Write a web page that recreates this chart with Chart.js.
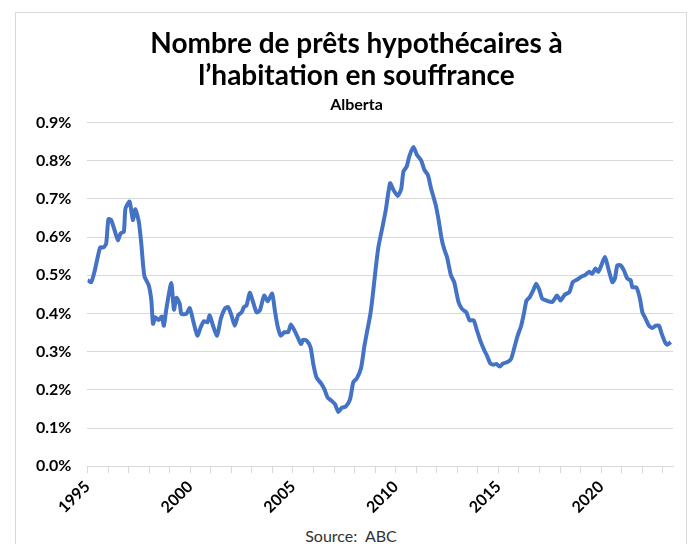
<!DOCTYPE html>
<html>
<head>
<meta charset="utf-8">
<script src="https://cdn.jsdelivr.net/npm/chart.js@4/dist/chart.umd.min.js"></script>
<style>
  body { margin: 0; background: #fff; font-family: Lato, sans-serif; }
  #frame { position: absolute; left: 15px; top: 12px; width: 670px; height: 560px; border: 1px solid #d9d9d9; }
  #wrap { position: absolute; left: 0; top: 0; width: 669px; height: 508px; }
  #source { position: absolute; left: 0; width: 670px; top: 513px; text-align: center; font-size: 16px; color: #333; }
</style>
</head>
<body>
<div id="frame">
  <div id="wrap"><canvas id="chart"></canvas></div>
  <div id="source">Source:&nbsp; ABC</div>
</div>
<script>
// decimal years and delinquency rate in %
const periods = [
  1995.00, 1995.18, 1995.34, 1995.50, 1995.62, 1995.78, 1995.91, 1996.02, 1996.15, 1996.32,
  1996.48, 1996.61, 1996.77, 1996.85, 1997.05, 1997.21, 1997.33, 1997.50, 1997.62, 1997.70,
  1997.78, 1997.98, 1998.11, 1998.19, 1998.30, 1998.46, 1998.62, 1998.72, 1998.84, 1999.08,
  1999.21, 1999.33, 1999.49, 1999.57, 1999.81, 1999.98, 2000.14, 2000.35, 2000.51, 2000.67,
  2000.84, 2000.95, 2001.11, 2001.31, 2001.49, 2001.68, 2001.84, 2002.01, 2002.17, 2002.33,
  2002.50, 2002.62, 2002.74, 2002.90, 2003.06, 2003.23, 2003.39, 2003.60, 2003.77, 2003.99,
  2004.12, 2004.25, 2004.41, 2004.58, 2004.77, 2004.90, 2005.06, 2005.23, 2005.39, 2005.50,
  2005.67, 2005.86, 2005.99, 2006.15, 2006.37, 2006.53, 2006.69, 2006.89, 2007.05, 2007.21,
  2007.37, 2007.57, 2007.78, 2007.94, 2008.11, 2008.32, 2008.48, 2008.60, 2008.76, 2008.87,
  2009.00, 2009.16, 2009.36, 2009.52, 2009.73, 2009.89, 2010.10, 2010.27, 2010.38, 2010.54,
  2010.66, 2010.87, 2011.03, 2011.24, 2011.40, 2011.57, 2011.73, 2011.84, 2011.96, 2012.09,
  2012.25, 2012.38, 2012.50, 2012.69, 2012.85, 2013.06, 2013.23, 2013.44, 2013.60, 2013.80,
  2013.96, 2014.12, 2014.32, 2014.45, 2014.61, 2014.77, 2014.90, 2015.06, 2015.23, 2015.42,
  2015.62, 2015.78, 2015.94, 2016.11, 2016.24, 2016.37, 2016.53, 2016.70, 2016.84, 2017.00,
  2017.13, 2017.34, 2017.62, 2017.86, 2018.02, 2018.23, 2018.46, 2018.62, 2018.84, 2019.05,
  2019.21, 2019.41, 2019.57, 2019.73, 2019.86, 2019.98, 2020.19, 2020.35, 2020.55, 2020.67,
  2020.79, 2020.95, 2021.11, 2021.28, 2021.44, 2021.52, 2021.72, 2021.89, 2022.01, 2022.17,
  2022.33, 2022.50, 2022.66, 2022.82, 2022.95, 2023.11, 2023.23, 2023.39
];
const rates = [
  0.487, 0.482, 0.509, 0.548, 0.573, 0.573, 0.583, 0.647, 0.645, 0.618,
  0.592, 0.610, 0.614, 0.675, 0.693, 0.645, 0.673, 0.640, 0.583, 0.531,
  0.496, 0.474, 0.434, 0.373, 0.390, 0.383, 0.392, 0.368, 0.412, 0.480,
  0.410, 0.441, 0.425, 0.399, 0.399, 0.414, 0.382, 0.342, 0.364, 0.380,
  0.377, 0.395, 0.368, 0.342, 0.386, 0.412, 0.417, 0.395, 0.368, 0.395,
  0.403, 0.417, 0.421, 0.454, 0.430, 0.403, 0.408, 0.447, 0.432, 0.452,
  0.408, 0.368, 0.342, 0.351, 0.351, 0.371, 0.357, 0.338, 0.320, 0.331,
  0.329, 0.311, 0.268, 0.232, 0.217, 0.202, 0.180, 0.171, 0.162, 0.142,
  0.153, 0.156, 0.175, 0.220, 0.230, 0.258, 0.315, 0.350, 0.395, 0.440,
  0.504, 0.574, 0.627, 0.671, 0.741, 0.724, 0.708, 0.726, 0.772, 0.785,
  0.811, 0.836, 0.816, 0.801, 0.776, 0.763, 0.726, 0.706, 0.682, 0.645,
  0.592, 0.566, 0.548, 0.500, 0.482, 0.430, 0.412, 0.403, 0.382, 0.382,
  0.355, 0.329, 0.303, 0.289, 0.269, 0.266, 0.268, 0.261, 0.269, 0.272,
  0.281, 0.311, 0.342, 0.368, 0.399, 0.434, 0.443, 0.461, 0.478, 0.461,
  0.439, 0.434, 0.430, 0.447, 0.434, 0.449, 0.456, 0.482, 0.489, 0.497,
  0.500, 0.509, 0.504, 0.518, 0.509, 0.522, 0.548, 0.518, 0.482, 0.491,
  0.526, 0.526, 0.513, 0.491, 0.487, 0.469, 0.468, 0.439, 0.403, 0.386,
  0.368, 0.362, 0.368, 0.368, 0.347, 0.325, 0.318, 0.325
];
const yTicks = [0, 0.1, 0.2, 0.3, 0.4, 0.5, 0.6, 0.7, 0.8, 0.9];
const labelYears = [1995, 2000, 2005, 2010, 2015, 2020];

// nudge title + subtitle a little right, like the original
const shiftTitles = {
  id: 'shiftTitles',
  afterLayout(chart) {
    chart.boxes.forEach(b => {
      if (b instanceof Chart.Title._element) { b.left += 10; b.right += 10; }
    });
  }
};

document.addEventListener("DOMContentLoaded", function() {
  const ctx = document.getElementById('chart');
  new Chart(ctx, {
    type: 'line',
    data: {
      datasets: [{
        data: periods.map((p, i) => ({ x: p, y: rates[i] })),
        borderColor: '#4472C4',
        borderWidth: 4,
        pointRadius: 0,
        tension: 0.2,
        fill: false
      }]
    },
    plugins: [shiftTitles],
    options: {
      responsive: true,
      maintainAspectRatio: false,
      animation: false,
      layout: { padding: { top: 0, right: 12, left: 4, bottom: 0 } },
      plugins: {
        legend: { display: false },
        tooltip: { enabled: false },
        title: {
          display: true,
          text: ['Nombre de prêts hypothécaires à', 'l\u2019habitation en souffrance'],
          color: '#000',
          font: { family: 'Lato', size: 28, weight: 'bold', lineHeight: 1.15 },
          padding: { top: 15, bottom: 3 }
        },
        subtitle: {
          display: true,
          text: 'Alberta',
          color: '#000',
          font: { family: 'Lato', size: 16, weight: 'bold', lineHeight: 1.2 },
          padding: { top: 0, bottom: 8 }
        }
      },
      scales: {
        x: {
          type: 'linear',
          min: 1995,
          max: 2023.5,
          grid: { display: true, drawOnChartArea: false, drawTicks: true, tickLength: 7, color: '#d9d9d9' },
          border: { display: true, color: '#d9d9d9' },
          ticks: {
            stepSize: 1,
            includeBounds: false,
            autoSkip: false,
            maxRotation: 45,
            minRotation: 45,
            padding: 4,
            color: '#000',
            font: { family: 'Lato', size: 16, weight: 'bold' },
            callback: v => labelYears.includes(v) ? String(v) : ''
          }
        },
        y: {
          min: 0,
          max: 0.9,
          afterBuildTicks: axis => { axis.ticks = yTicks.map(v => ({ value: v })); },
          grid: { color: '#d9d9d9', drawTicks: false },
          border: { display: false },
          ticks: {
            padding: 16,
            color: '#000',
            font: { family: 'Lato', size: 16, weight: 'bold' },
            callback: v => v.toFixed(1) + '%'
          }
        }
      }
    }
  });
});
</script>
</body>
</html>
